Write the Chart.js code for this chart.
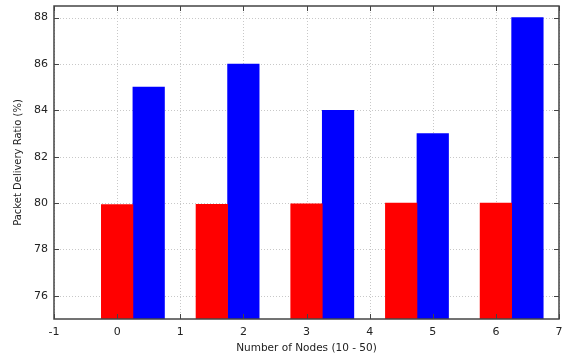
<!DOCTYPE html>
<html lang="en">
<head>
    <meta charset="UTF-8">
    <title>Packet Delivery Ratio</title>
    <script src="https://cdn.jsdelivr.net/npm/chart.js"></script>
    <style>
        html, body { margin: 0; padding: 0; background: #fff; overflow: hidden; }
        .chart-box { position: relative; width: 562px; height: 358px; }
    </style>
</head>
<body>
    <div class="chart-box">
        <canvas id="pdrChart"></canvas>
    </div>

    <script>
        // --- DATA ---
        const redX = [0, 1.5, 3, 4.5, 6];
        const redValues = [79.94, 79.95, 79.97, 80.0, 80.0];
        const blueX = [0.5, 2, 3.5, 5, 6.5];
        const blueValues = [85, 86, 84, 83, 88];
        const xTicks = [-1, 0, 1, 2, 3, 4, 5, 6, 7];
        const yTicks = [76, 78, 80, 82, 84, 86, 88];

        const toPoints = (xs, ys) => xs.map((x, i) => ({ x: x, y: ys[i] }));

        // dotted grid behind the bars, then frame + inward tick marks on top (gnuplot look)
        const framePlugin = {
            id: 'frame',
            beforeDatasetsDraw(chart) {
                const { ctx, chartArea: a, scales } = chart;
                ctx.save();
                ctx.strokeStyle = '#c8c8c8';
                ctx.lineWidth = 1;
                ctx.setLineDash([1, 2]);
                ctx.beginPath();
                xTicks.forEach(v => {
                    const px = Math.round(scales.x.getPixelForValue(v)) + 0.5;
                    ctx.moveTo(px, a.top); ctx.lineTo(px, a.bottom);
                });
                yTicks.forEach(v => {
                    const py = Math.round(scales.y.getPixelForValue(v)) + 0.5;
                    ctx.moveTo(a.left, py); ctx.lineTo(a.right, py);
                });
                ctx.stroke();
                ctx.restore();
            },
            afterDraw(chart) {
                const { ctx, chartArea: a, scales } = chart;
                ctx.save();
                ctx.strokeStyle = '#444';
                ctx.lineWidth = 1;
                ctx.beginPath();
                xTicks.forEach(v => {
                    const px = Math.round(scales.x.getPixelForValue(v)) + 0.5;
                    ctx.moveTo(px, a.bottom); ctx.lineTo(px, a.bottom - 5);
                    ctx.moveTo(px, a.top); ctx.lineTo(px, a.top + 5);
                });
                yTicks.forEach(v => {
                    const py = Math.round(scales.y.getPixelForValue(v)) + 0.5;
                    ctx.moveTo(a.left, py); ctx.lineTo(a.left + 5, py);
                    ctx.moveTo(a.right, py); ctx.lineTo(a.right - 5, py);
                });
                ctx.stroke();
                ctx.lineWidth = 1.5;
                ctx.strokeRect(a.left, a.top, a.right - a.left, a.bottom - a.top);
                ctx.restore();
            }
        };

        const ctx = document.getElementById('pdrChart').getContext('2d');
        new Chart(ctx, {
            type: 'bar',
            data: {
                datasets: [
                    { data: toPoints(redX, redValues), backgroundColor: '#ff0000' },
                    { data: toPoints(blueX, blueValues), backgroundColor: '#0000ff' }
                ]
            },
            options: {
                responsive: true,
                maintainAspectRatio: false,
                animation: false,
                grouped: false,
                barPercentage: 1,
                categoryPercentage: 1,
                layout: { padding: { top: 6, right: 3, left: 0, bottom: 0 } },
                plugins: { legend: { display: false }, tooltip: { enabled: false } },
                scales: {
                    x: {
                        type: 'linear',
                        offset: false,
                        min: -1,
                        max: 7,
                        afterBuildTicks: s => { s.ticks = xTicks.map(v => ({ value: v })); },
                        afterFit: s => { s.height = 39; s.paddingRight = 0; s.paddingLeft = 0; },
                        grid: { display: false, drawTicks: false },
                        border: { display: false },
                        ticks: { color: '#222', padding: 7, font: { family: 'DejaVu Sans', size: 11 } },
                        title: {
                            display: true,
                            text: 'Number of Nodes (10 - 50)',
                            color: '#222',
                            padding: { top: 0, bottom: 3 },
                            font: { family: 'DejaVu Sans', size: 10.5 }
                        }
                    },
                    y: {
                        min: 75,
                        max: 88.5,
                        afterBuildTicks: s => { s.ticks = yTicks.map(v => ({ value: v })); },
                        afterFit: s => { s.width = 54; s.paddingTop = 0; s.paddingBottom = 0; },
                        grid: { display: false, drawTicks: false },
                        border: { display: false },
                        ticks: { color: '#222', padding: 6, font: { family: 'DejaVu Sans', size: 11 } },
                        title: {
                            display: true,
                            text: 'Packet Delivery Ratio (%)',
                            color: '#222',
                            padding: { top: 12, bottom: 0 },
                            font: { family: 'DejaVu Sans', size: 10 }
                        }
                    }
                }
            },
            plugins: [framePlugin]
        });
    </script>
</body>
</html>
